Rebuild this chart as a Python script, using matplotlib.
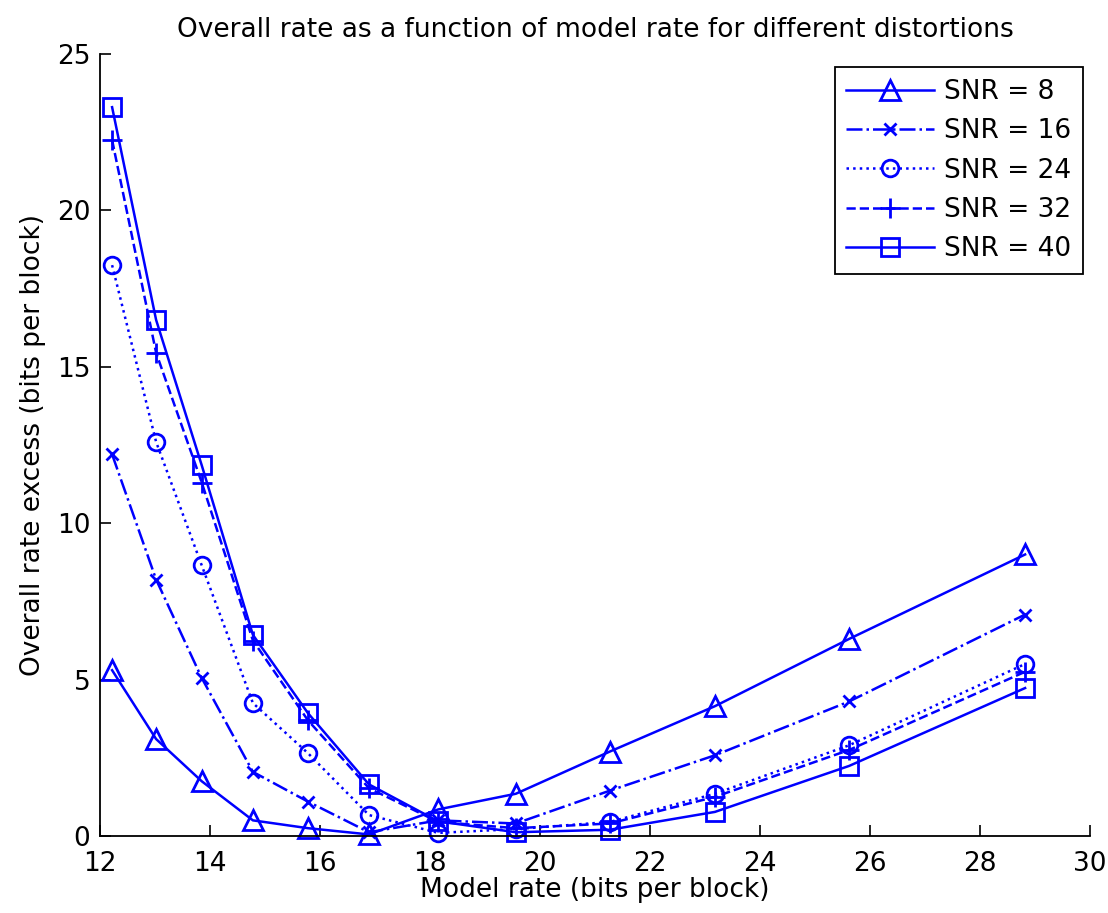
import matplotlib
matplotlib.use("Agg")
import matplotlib.pyplot as plt

model_rate = [12.22, 13.02, 13.85, 14.78, 15.78, 16.89, 18.15, 19.56, 21.27, 23.18, 25.62, 28.82]
snr_labels = ["SNR = 8", "SNR = 16", "SNR = 24", "SNR = 32", "SNR = 40"]
snr8  = [5.3, 3.1, 1.75, 0.5, 0.25, 0.05, 0.85, 1.35, 2.7, 4.15, 6.3, 9.0]
snr16 = [12.2, 8.2, 5.05, 2.05, 1.1, 0.12, 0.5, 0.4, 1.45, 2.58, 4.3, 7.08]
snr24 = [18.25, 12.6, 8.65, 4.25, 2.65, 0.67, 0.1, 0.22, 0.45, 1.35, 2.9, 5.5]
snr32 = [22.25, 15.45, 11.3, 6.25, 3.7, 1.53, 0.45, 0.25, 0.4, 1.25, 2.75, 5.25]
snr40 = [23.3, 16.5, 11.85, 6.43, 3.93, 1.65, 0.47, 0.12, 0.2, 0.77, 2.24, 4.73]

series = [snr8, snr16, snr24, snr32, snr40]
styles = [("-", "^", 14), ("-.", "x", 8), (":", "o", 12), ("--", "+", 15), ("-", "s", 13)]

plt.rcParams['font.family'] = ['DejaVu Sans']

fig = plt.figure(figsize=(11.08, 9.13), dpi=100)
ax = fig.add_axes([100 / 1108, 77 / 913, 990 / 1108, 782 / 913])

for vals, lab, (ls, mk, ms) in zip(series, snr_labels, styles):
    ax.plot(model_rate, vals, linestyle=ls, marker=mk, color="#0000ff", lw=1.8,
            markersize=ms, markerfacecolor="none", markeredgewidth=2.0, label=lab,
            clip_on=False)

ax.set_xlim(12, 30)
ax.set_ylim(0, 25)
ax.set_xticks(range(12, 31, 2))
ax.set_yticks(range(0, 26, 5))
ax.tick_params(direction="in", length=8, width=1.2, labelsize=19, top=False, right=False)
ax.tick_params(axis="x", pad=11)
ax.tick_params(axis="y", pad=7)
for s in ["top", "right"]:
    ax.spines[s].set_visible(False)
for s in ["left", "bottom"]:
    ax.spines[s].set_linewidth(1.3)

ax.set_xlabel("Model rate (bits per block)", fontsize=19, labelpad=0)
ax.set_ylabel("Overall rate excess (bits per block)", fontsize=19, labelpad=8)
ax.set_title("Overall rate as a function of model rate for different distortions", fontsize=19, pad=12)

leg = ax.legend(loc="upper right", bbox_to_anchor=(0.993, 0.983), fontsize=19, handlelength=3.3,
                fancybox=False, framealpha=1, edgecolor="black", borderpad=0.45, labelspacing=0.5,
                handletextpad=0.4, borderaxespad=0)
leg.get_frame().set_linewidth(1.3)

fig.savefig("out.png", dpi=100)
